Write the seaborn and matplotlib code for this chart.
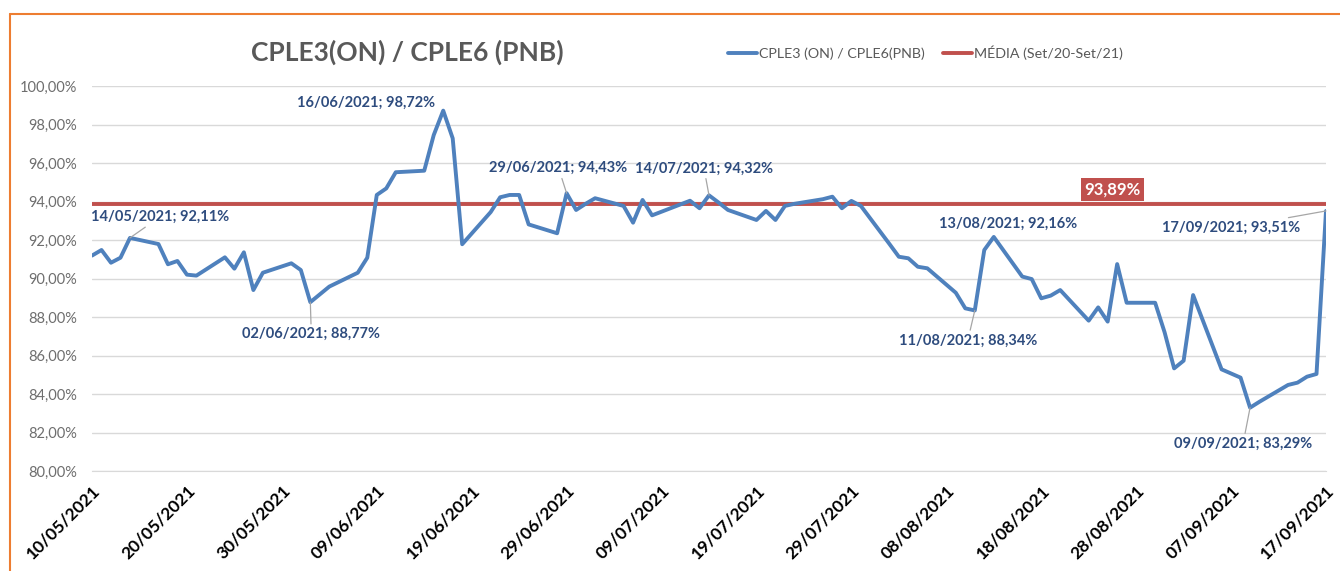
import numpy as np
import pandas as pd
import matplotlib
matplotlib.use("Agg")
import matplotlib.pyplot as plt
import matplotlib.dates as mdates
from matplotlib.ticker import FuncFormatter
import seaborn as sns

# pregões (sem 03/06 e 07/09, feriados)
datas = [
    "10/05/2021", "11/05/2021", "12/05/2021", "13/05/2021", "14/05/2021",
    "17/05/2021", "18/05/2021", "19/05/2021", "20/05/2021", "21/05/2021",
    "24/05/2021", "25/05/2021", "26/05/2021", "27/05/2021", "28/05/2021",
    "31/05/2021", "01/06/2021", "02/06/2021", "04/06/2021",
    "07/06/2021", "08/06/2021", "09/06/2021", "10/06/2021", "11/06/2021",
    "14/06/2021", "15/06/2021", "16/06/2021", "17/06/2021", "18/06/2021",
    "21/06/2021", "22/06/2021", "23/06/2021", "24/06/2021", "25/06/2021",
    "28/06/2021", "29/06/2021", "30/06/2021", "01/07/2021", "02/07/2021",
    "05/07/2021", "06/07/2021", "07/07/2021", "08/07/2021", "09/07/2021",
    "12/07/2021", "13/07/2021", "14/07/2021", "15/07/2021", "16/07/2021",
    "19/07/2021", "20/07/2021", "21/07/2021", "22/07/2021", "23/07/2021",
    "26/07/2021", "27/07/2021", "28/07/2021", "29/07/2021", "30/07/2021",
    "02/08/2021", "03/08/2021", "04/08/2021", "05/08/2021", "06/08/2021",
    "09/08/2021", "10/08/2021", "11/08/2021", "12/08/2021", "13/08/2021",
    "16/08/2021", "17/08/2021", "18/08/2021", "19/08/2021", "20/08/2021",
    "23/08/2021", "24/08/2021", "25/08/2021", "26/08/2021", "27/08/2021",
    "30/08/2021", "31/08/2021", "01/09/2021", "02/09/2021", "03/09/2021",
    "06/09/2021", "08/09/2021", "09/09/2021", "10/09/2021",
    "13/09/2021", "14/09/2021", "15/09/2021", "16/09/2021", "17/09/2021",
]
razao = [
    91.19, 91.48, 90.82, 91.08, 92.11,
    91.79, 90.74, 90.91, 90.20, 90.15,
    91.10, 90.51, 91.36, 89.40, 90.30,
    90.79, 90.44, 88.77, 89.58,
    90.30, 91.08, 94.34, 94.68, 95.52,
    95.60, 97.45, 98.72, 97.28, 91.78,
    93.45, 94.22, 94.34, 94.34, 92.81,
    92.35, 94.43, 93.56, 93.88, 94.17,
    93.77, 92.90, 94.08, 93.28, 93.47,
    94.04, 93.65, 94.32, 93.95, 93.56,
    93.04, 93.51, 93.04, 93.77, 93.88,
    94.12, 94.25, 93.65, 94.03, 93.77,
    91.80, 91.13, 91.05, 90.61, 90.53,
    89.26, 88.45, 88.34, 91.48, 92.16,
    90.10, 89.97, 88.97, 89.11, 89.40,
    87.81, 88.50, 87.76, 90.75, 88.74,
    88.74, 87.20, 85.33, 85.73, 89.14,
    85.28, 84.85, 83.29, 83.60,
    84.47, 84.59, 84.90, 85.04, 93.51,
]
media = 93.89

# rótulos destacados: data, deslocamento do texto (px), com linha guia
destaques = [
    ("16/06/2021", (-77, 8), False),
    ("14/05/2021", (30, 21), True),
    ("02/06/2021", (1, -32), True),
    ("29/06/2021", (-8, 25), True),
    ("14/07/2021", (-5, 27), True),
    ("13/08/2021", (14, 13), False),
    ("11/08/2021", (-7, -30), True),
    ("09/09/2021", (-7, -36), True),
    ("17/09/2021", (-95, -17), True),
]

serie_nome = "CPLE3 (ON) / CPLE6(PNB)"
media_nome = "MÉDIA (Set/20-Set/21)"

azul = "#4F81BD"
vermelho = "#C0504D"
texto_azul = "#2E4C7E"

df = pd.DataFrame({"data": pd.to_datetime(datas, dayfirst=True), "razao": razao})
df["media"] = media

sns.set_style("white")
plt.rcParams["font.family"] = ["Lato", "DejaVu Sans"]

fig = plt.figure(figsize=(13.4, 5.71), dpi=100)
ax = fig.add_axes([92 / 1340, 1 - 471 / 571, (1326 - 92) / 1340, (471 - 86) / 571])

sns.lineplot(data=df, x="data", y="media", ax=ax, color=vermelho, lw=2.8,
             label=media_nome, zorder=3)
sns.lineplot(data=df, x="data", y="razao", ax=ax, color=azul, lw=2.8,
             label=serie_nome, zorder=4)

ax.set_ylim(80, 100)
ax.set_yticks(np.arange(80, 101, 2))
ax.yaxis.set_major_formatter(FuncFormatter(lambda v, p: f"{v:.2f}".replace(".", ",") + "%"))
ax.set_xlim(df["data"].iloc[0], df["data"].iloc[-1])
ax.set_xticks(pd.date_range(df["data"].iloc[0], df["data"].iloc[-1], freq="10D"))
ax.xaxis.set_major_formatter(mdates.DateFormatter("%d/%m/%Y"))
ax.grid(axis="y", color="#D9D9D9", lw=1)
ax.set_axisbelow(True)
ax.set_xlabel("")
ax.set_ylabel("")

for s in ["top", "right", "left"]:
    ax.spines[s].set_visible(False)
ax.spines["bottom"].set_color("#D9D9D9")
ax.tick_params(axis="y", length=0, pad=11, labelsize=10.5, labelcolor="#6E6E6E")
ax.tick_params(axis="x", length=5, width=1, color="#D9D9D9", direction="out",
               pad=3, labelsize=12.5, labelcolor="black")
for lbl in ax.get_xticklabels():
    lbl.set_rotation(45)
    lbl.set_ha("right")
    lbl.set_rotation_mode("anchor")
    lbl.set_fontweight("bold")

# rótulos dos pontos
for d, off, guia in destaques:
    i = datas.index(d)
    txt = f"{d}; {razao[i]:.2f}".replace(".", ",") + "%"
    props = dict(arrowstyle="-", color="#A6A6A6", lw=0.9, shrinkA=0, shrinkB=0) if guia else None
    ax.annotate(txt, xy=(df["data"].iloc[i], razao[i]), xytext=off,
                textcoords="offset pixels", ha="center", va="center",
                fontsize=10.5, fontweight="bold", color=texto_azul,
                arrowprops=props, zorder=5)

# rótulo da média
ax.annotate(f"{media:.2f}".replace(".", ",") + "%", xy=(0.827, media),
            xycoords=("axes fraction", "data"), xytext=(0, 14),
            textcoords="offset pixels", ha="center", va="center",
            fontsize=12, fontweight="bold", color="white", zorder=6,
            bbox=dict(boxstyle="square,pad=0.22", fc=vermelho, ec="none"))

# título e legenda
fig.text(407 / 1340, 1 - 52 / 571, "CPLE3(ON) / CPLE6 (PNB)", ha="center", va="center",
         fontsize=19, fontweight="bold", color="#595959")
h, l = ax.get_legend_handles_labels()
order = [l.index(serie_nome), l.index(media_nome)]
ax.legend([h[k] for k in order], [l[k] for k in order], loc="center left",
          bbox_to_anchor=(728 / 1340, 1 - 53 / 571), bbox_transform=fig.transFigure,
          ncol=2, frameon=False, fontsize=10.3, handlelength=2.0, handletextpad=0.15,
          columnspacing=1.3, borderpad=0, borderaxespad=0, labelcolor="#595959")

# moldura laranja (apenas topo e esquerda visíveis)
fig.add_artist(plt.Line2D([9.5 / 1340, 1], [1 - 14 / 571] * 2, transform=fig.transFigure,
                          color="#ED7D31", lw=1.5))
fig.add_artist(plt.Line2D([9.5 / 1340] * 2, [0, 1 - 14 / 571], transform=fig.transFigure,
                          color="#ED7D31", lw=1.5))

fig.savefig("out.png", dpi=100)
